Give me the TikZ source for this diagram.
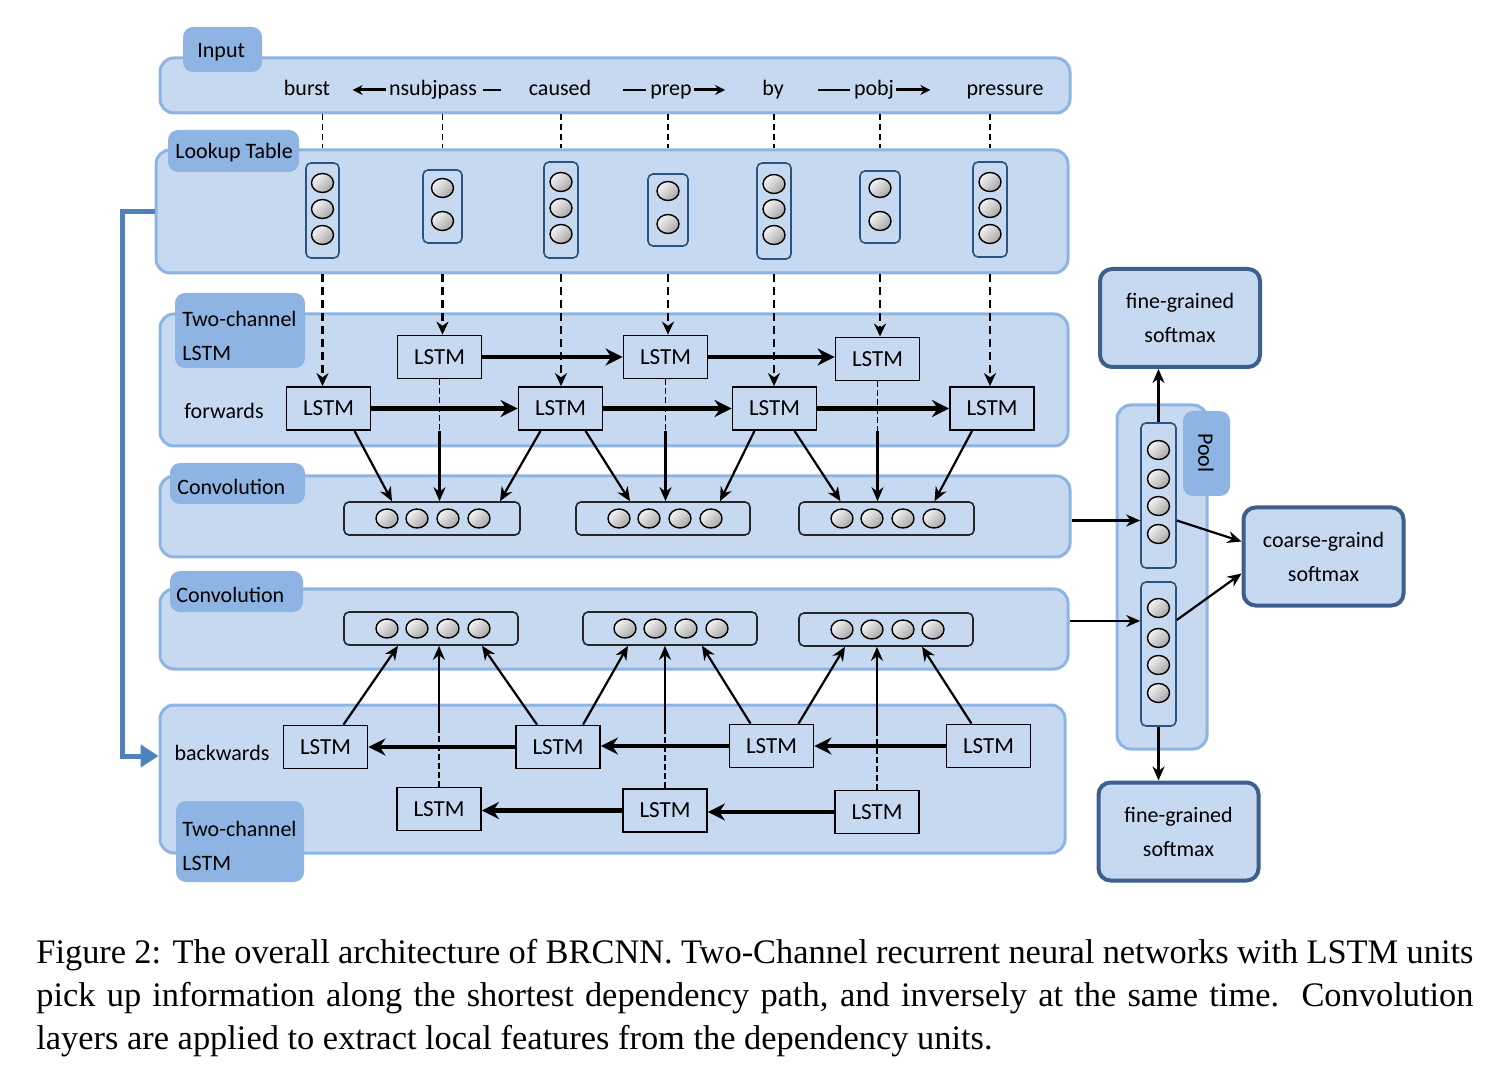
\documentclass[tikz,border=0pt]{standalone}
\usepackage{fontspec}
\setmainfont{Carlito}
\newfontfamily\capfont{Liberation Serif}
\usetikzlibrary{arrows.meta,fit,calc,shapes.geometric}
\definecolor{pfill}{RGB}{198,217,241}
\definecolor{pline}{RGB}{141,180,226}
\definecolor{tagc}{RGB}{141,180,226}
\definecolor{vblue}{RGB}{44,82,130}
\definecolor{smline}{RGB}{60,95,140}
\definecolor{barrow}{RGB}{79,129,189}
\begin{document}
\begin{tikzpicture}[x=0.5pt,y=-0.5pt,
  panel/.style={draw=pline, fill=pfill, line width=1.5pt, rounded corners=7pt, inner sep=0pt},
  tag/.style={fill=tagc, rounded corners=5pt, inner sep=0pt},
  tagtext/.style={anchor=west, inner sep=0pt, align=left, font=\fontsize{11}{17}\selectfont},
  word/.style={inner sep=1pt, text height=8pt, text depth=2.5pt, font=\fontsize{11}{13}\selectfont},
  lstm/.style={draw=black, fill=pfill, line width=0.9pt, minimum width=42pt, minimum height=21.5pt, inner sep=0pt, font=\fontsize{11.5}{13}\selectfont},
  wvec/.style={draw=vblue, fill=pfill, line width=0.8pt, rounded corners=2.5pt, inner sep=0pt},
  cvec/.style={draw=black!85, fill=pfill, line width=0.8pt, rounded corners=2.5pt, inner sep=0pt},
  ball/.style={ellipse, draw=black, line width=0.7pt, minimum width=11pt, minimum height=9.5pt, inner sep=0pt, top color=gray!8, bottom color=gray!70, shading angle=45},
  smbox/.style={draw=smline, fill=pfill, line width=2pt, rounded corners=6pt, minimum width=80pt, minimum height=49pt, align=center, inner sep=0pt, font=\fontsize{11}{17}\selectfont},
  tharrow/.style={line width=2.4pt, -{Stealth[length=8.5pt,width=8.5pt]}},
  ddarrow/.style={line width=1.3pt, dash pattern=on 4pt off 2.5pt, -{Stealth[length=6.5pt,width=6pt]}},
  indash/.style={line width=0.9pt, dash pattern=on 3pt off 2pt},
  thdash/.style={line width=0.9pt, dash pattern=on 3pt off 1.5pt},
  carrow/.style={line width=1.1pt, -{Stealth[length=7pt,width=6pt]}},
  relarrow/.style={line width=1.5pt, -{Stealth[length=5pt,width=5pt]}},
  reldash/.style={line width=0.8pt},
  bluearr/.style={draw=barrow, line width=2.5pt, -{Triangle[length=9pt,width=11pt]}},
  capnode/.style={anchor=base west, inner sep=0pt, font=\capfont\fontsize{17.2}{21}\selectfont}
]
\useasboundingbox (0,0) rectangle (1500,1080);

% ---------- panels ----------
\node[panel, fit={(160,58) (1070,113)}] (inp) {};
\node[panel, fit={(156,150) (1068,273)}] (lut) {};
\node[panel, fit={(160,314) (1068,446)}] (fwd) {};
\node[panel, fit={(160,476) (1070,557)}] (cv1) {};
\node[panel, fit={(160,589) (1068,669)}] (cv2) {};
\node[panel, fit={(160,705) (1065,853)}] (bwd) {};
\node[panel, fit={(1117,405) (1207,749)}] (pool) {};

% ---------- tags ----------
\node[tag, fit={(183,27) (262,72)}] (tin) {};
\node[tag, fit={(168,130) (299,172)}] (tlu) {};
\node[tag, fit={(175,293) (305,368)}] (tfw) {};
\node[tag, fit={(170,463) (305,504)}] (tc1) {};
\node[tag, fit={(170,571) (303,612)}] (tc2) {};
\node[tag, fit={(176,801) (304,882)}] (tbw) {};
\node[tag, fit={(1183,411) (1230,496)}] (tpl) {};
\node[tagtext] (lin) at (197,52) {Input};
\node[tagtext] (llu) at (175,153) {Lookup Table};
\node[tagtext] (lfw) at (182,336) {Two-channel\\LSTM};
\node[tagtext] (lc1) at (177,487) {Convolution};
\node[tagtext] (lc2) at (176,595) {Convolution};
\node[tagtext] (lbw) at (182,846) {Two-channel\\LSTM};
\node[inner sep=0pt, rotate=-90, font=\fontsize{11}{13}\selectfont] (lpl) at (1206,453) {Pool};

% ---------- input words ----------
\node[word] (w1) at (307,90) {burst};
\node[word] (w2) at (433,90) {nsubjpass};
\node[word] (w3) at (560,90) {caused};
\node[word] (w4) at (671,90) {prep};
\node[word] (w5) at (773,90) {by};
\node[word] (w6) at (874,90) {pobj};
\node[word] (w7) at (1005,90) {pressure};
\draw[relarrow] ([xshift=-0.5pt]w2.west) -- ++(-33,0);
\draw[reldash] ([xshift=2pt]w2.east) -- ++(18,0);
\draw[reldash] ([xshift=-1pt]w4.west) -- ++(-23,0);
\draw[relarrow] (w4.east) -- ++(31,0);
\draw[reldash] ([xshift=-1pt]w6.west) -- ++(-32,0);
\draw[relarrow] (w6.east) -- ++(34,0);

% ---------- lookup vectors ----------
\node[wvec, fit={(306,163) (339,258)}] (v1) {};
\node[wvec, fit={(423,170) (462,243)}] (v2) {};
\node[wvec, fit={(544,162) (578,258)}] (v3) {};
\node[wvec, fit={(648,174) (688,246)}] (v4) {};
\node[wvec, fit={(757,163) (791,259)}] (v5) {};
\node[wvec, fit={(860,171) (900,243)}] (v6) {};
\node[wvec, fit={(973,162) (1007,257)}] (v7) {};
\foreach \y [count=\i] in {183,209,235} \node[ball] (v1b\i) at (322.5,\y) {};
\foreach \y [count=\i] in {188,221} \node[ball] (v2b\i) at (442.5,\y) {};
\foreach \y [count=\i] in {182,208,234} \node[ball] (v3b\i) at (561,\y) {};
\foreach \y [count=\i] in {191,224} \node[ball] (v4b\i) at (668,\y) {};
\foreach \y [count=\i] in {184,209,235} \node[ball] (v5b\i) at (774,\y) {};
\foreach \y [count=\i] in {188,221} \node[ball] (v6b\i) at (880,\y) {};
\foreach \y [count=\i] in {182,208,234} \node[ball] (v7b\i) at (990,\y) {};

\foreach \v in {v1,v2,v3,v4,v5,v6,v7}
  \draw[indash] (\v.north |- inp.south) -- (\v.north |- lut.north);

% ---------- forward LSTMs ----------
\node[lstm] (F1) at (328.5,408.5) {LSTM};
\node[lstm] (F2) at (560.5,408.5) {LSTM};
\node[lstm] (F3) at (774.5,408.5) {LSTM};
\node[lstm] (F4) at (992,408.5) {LSTM};
\node[lstm] (U1) at (439.5,357) {LSTM};
\node[lstm] (U2) at (665.5,357) {LSTM};
\node[lstm] (U3) at (877.5,359) {LSTM};
\node[font=\fontsize{11}{13}\selectfont, inner sep=0pt] (lfwd) at (224,411) {forwards};

\draw[ddarrow] (v1.south |- lut.south) -- (v1.south |- F1.north);
\draw[ddarrow] (v2.south |- lut.south) -- (v2.south |- U1.north);
\draw[ddarrow] (v3.south |- lut.south) -- (v3.south |- F2.north);
\draw[ddarrow] (v4.south |- lut.south) -- (v4.south |- U2.north);
\draw[ddarrow] (v5.south |- lut.south) -- (v5.south |- F3.north);
\draw[ddarrow] (v6.south |- lut.south) -- (v6.south |- U3.north);
\draw[ddarrow] (v7.south |- lut.south) -- (v7.south |- F4.north);

\draw[tharrow] (F1) -- (F2);
\draw[tharrow] (F2) -- (F3);
\draw[tharrow] (F3) -- (F4);
\draw[tharrow] (U1) -- (U2);
\draw[tharrow] (U2.east) -- (U2.east -| U3.west);

% ---------- conv vectors ----------
\node[cvec, fit={(344,502) (520,535)}] (c1) {};
\node[cvec, fit={(576,502) (750,535)}] (c2) {};
\node[cvec, fit={(799,502) (974,535)}] (c3) {};
\node[cvec, fit={(344,612) (518,645)}] (d1) {};
\node[cvec, fit={(583,612) (757,645)}] (d2) {};
\node[cvec, fit={(799,613) (973,646)}] (d3) {};
\foreach \x [count=\i] in {387,417,448,479} \node[ball] (c1b\i) at (\x,518.5) {};
\foreach \x [count=\i] in {619,649,680,711} \node[ball] (c2b\i) at (\x,518.5) {};
\foreach \x [count=\i] in {842,872,903,934} \node[ball] (c3b\i) at (\x,518.5) {};
\foreach \x [count=\i] in {387,417,448,479} \node[ball] (d1b\i) at (\x,628.5) {};
\foreach \x [count=\i] in {625,655,686,717} \node[ball] (d2b\i) at (\x,628.5) {};
\foreach \x [count=\i] in {842,872,903,933} \node[ball] (d3b\i) at (\x,629.5) {};

% forward -> conv1
\draw[carrow] ($(F1.south)+(26,0)$) -- ($(c1.north)+(-40,0)$);
\draw[thdash] (U1.south) -- ++(0,52) coordinate (u1m);
\draw[carrow] (u1m) -- (u1m |- c1.north);
\draw[carrow] ($(F2.south)+(-20,0)$) -- ($(c1.north)+(68,0)$);
\draw[carrow] ($(F2.south)+(25,0)$) -- ($(c2.north)+(-33,0)$);
\draw[thdash] (U2.south) -- ++(0,52) coordinate (u2m);
\draw[carrow] (u2m) -- (u2m |- c2.north);
\draw[carrow] ($(F3.south)+(-20,0)$) -- ($(c2.north)+(57,0)$);
\draw[carrow] ($(F3.south)+(20,0)$) -- ($(c3.north)+(-46,0)$);
\draw[thdash] (U3.south) -- ++(0,50) coordinate (u3m);
\draw[carrow] (u3m) -- (u3m |- c3.north);
\draw[carrow] ($(F4.south)+(-20,0)$) -- ($(c3.north)+(48,0)$);

% ---------- backward LSTMs ----------
\node[lstm] (B1) at (325.5,747) {LSTM};
\node[lstm] (B2) at (558,747) {LSTM};
\node[lstm] (B3) at (771.5,746) {LSTM};
\node[lstm] (B4) at (988.5,746) {LSTM};
\node[lstm] (L1) at (439,809) {LSTM};
\node[lstm] (L2) at (665,810.5) {LSTM};
\node[lstm] (L3) at (877,812) {LSTM};
\node[font=\fontsize{11}{13}\selectfont, inner sep=0pt] (lbwd) at (222,753) {backwards};

\draw[tharrow] (B4) -- (B3);
\draw[tharrow] (B3.west) -- (B3.west -| B2.east);
\draw[tharrow] (B2) -- (B1);
\draw[tharrow] (L3.west) -- (L3.west -| L2.east);
\draw[tharrow] (L2.west) -- (L2.west -| L1.east);

% backward -> conv2
\draw[carrow] ($(B1.north)+(18,0)$) -- ($(d1.south)+(-33,0)$);
\draw[thdash] (L1.north) -- ++(0,-57) coordinate (l1m);
\draw[carrow] (l1m) -- (l1m |- d1.south);
\draw[carrow] ($(B2.north)+(-21,0)$) -- ($(d1.south)+(51,0)$);
\draw[carrow] ($(B2.north)+(25,0)$) -- ($(d2.south)+(-42,0)$);
\draw[thdash] (L2.north) -- ++(0,-57) coordinate (l2m);
\draw[carrow] (l2m) -- (l2m |- d2.south);
\draw[carrow] ($(B3.north)+(-21,0)$) -- ($(d2.south)+(32,0)$);
\draw[carrow] ($(B3.north)+(27,0)$) -- ($(d3.south)+(-41,0)$);
\draw[thdash] (L3.north) -- ++(0,-57) coordinate (l3m);
\draw[carrow] (l3m) -- (l3m |- d3.south);
\draw[carrow] ($(B4.north)+(-17,0)$) -- ($(d3.south)+(36,0)$);

% ---------- blue feed arrow ----------
\coordinate (bl) at (122,756);
\draw[bluearr] (lut.west) -| (bl) -- (bl -| bwd.west);

% ---------- pool ----------
\node[wvec, fit={(1141,423) (1176,568)}] (p1) {};
\node[wvec, fit={(1141,582) (1176,726)}] (p2) {};
\foreach \y [count=\i] in {450,479,506,534} \node[ball] (p1b\i) at (1158.5,\y) {};
\foreach \y [count=\i] in {608,638,665,693} \node[ball] (p2b\i) at (1158.5,\y) {};

% ---------- softmax ----------
\node[smbox] (sm1) at (1180,318) {fine-grained\\softmax};
\node[smbox] (sm2) at (1323.5,556.5) {coarse-graind\\softmax};
\node[smbox] (sm3) at (1178.5,831.5) {fine-grained\\softmax};

\coordinate (a1) at ($(cv1.east)+(0,4)$);
\coordinate (a2) at ($(cv2.east)+(0,-8)$);
\draw[carrow] (a1) -- (a1 -| p1.west);
\draw[carrow] (a2) -- (a2 -| p2.west);
\draw[carrow] (p1.north) -- (p1.north |- sm1.south);
\draw[carrow] (p2.south) -- (p2.south |- sm3.north);
\draw[carrow] ($(p1.east)+(0,25)$) -- ($(sm2.west)+(0,-15)$);
\draw[carrow] ($(p2.east)+(0,-34)$) -- ($(sm2.west)+(0,17)$);

% ---------- caption ----------
\node[capnode] (cap1) at (36,963) {\makebox[718.5pt][s]{Figure 2: The overall architecture of BRCNN. Two-Channel recurrent neural networks with LSTM units}};
\node[capnode] (cap2) at (36,1006) {\makebox[718.5pt][s]{pick up information along the shortest dependency path, and inversely at the same time.\ \ Convolution}};
\node[capnode] (cap3) at (36,1049) {layers are applied to extract local features from the dependency units.};
\end{tikzpicture}
\end{document}
